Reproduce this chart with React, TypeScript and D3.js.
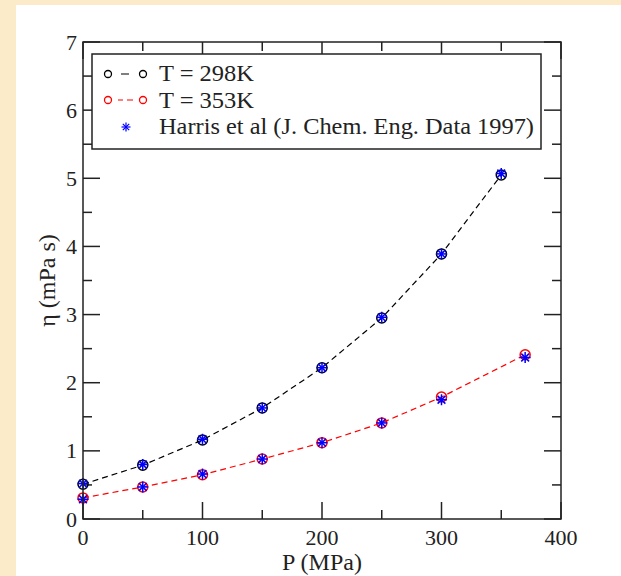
import React from "react";
import * as d3 from "d3";

const pressures298 = [0, 50, 100, 150, 200, 250, 300, 350];
const eta298 = [0.51, 0.79, 1.16, 1.63, 2.22, 2.95, 3.89, 5.05];
const pressures353 = [0, 50, 100, 150, 200, 250, 300, 370];
const eta353 = [0.31, 0.47, 0.65, 0.88, 1.12, 1.41, 1.79, 2.41];
const harrisP = [0, 50, 100, 150, 200, 250, 300, 350, 0, 50, 100, 150, 200, 250, 300, 370];
const harrisEta = [0.52, 0.80, 1.17, 1.63, 2.22, 2.96, 3.89, 5.07, 0.29, 0.47, 0.66, 0.88, 1.12, 1.41, 1.75, 2.37];
const xTicks = [0, 100, 200, 300, 400];
const yTicks = [0, 1, 2, 3, 4, 5, 6, 7];
const legendLabels = ["T = 298K", "T = 353K", "Harris et al (J. Chem. Eng. Data 1997)"];
const legendWidths = [95, 95, 375];

const W = 621;
const H = 576;
const left = 83, right = 561, top = 42, bottom = 519;
const FONT = "'Liberation Serif', 'Times New Roman', serif";

function Asterisk({ x, y, r, sw }: { x: number; y: number; r: number; sw: number }) {
  const d = r * 0.7071;
  return (
    <g stroke="#0000ff" strokeWidth={sw}>
      <line x1={x - r} y1={y} x2={x + r} y2={y} />
      <line x1={x} y1={y - r} x2={x} y2={y + r} />
      <line x1={x - d} y1={y - d} x2={x + d} y2={y + d} />
      <line x1={x - d} y1={y + d} x2={x + d} y2={y - d} />
    </g>
  );
}

export default function App() {
  const x = d3.scaleLinear().domain([0, 400]).range([left, right]);
  const y = d3.scaleLinear().domain([0, 7]).range([bottom, top]);
  const line = d3.line<[number, number]>().x((d) => x(d[0])).y((d) => y(d[1]));
  const s298: [number, number][] = pressures298.map((p, i) => [p, eta298[i]]);
  const s353: [number, number][] = pressures353.map((p, i) => [p, eta353[i]]);
  const xMinor = d3.range(0, 401, 50);
  const yMinor = d3.range(0, 7.01, 0.5);
  const major = 17, minor = 9;
  const frameColor = "#222";

  return (
    <svg width={W} height={H} style={{ position: "absolute", left: 0, top: 0 }}>
      <rect x={0} y={0} width={W} height={H} fill="#fbebc9" />
      <rect x={16} y={5} width={W - 16} height={H - 5} fill="#ffffff" />

      {/* ticks */}
      <g stroke={frameColor} strokeWidth={1.5}>
        {xMinor.map((v) => {
          const len = v % 100 === 0 ? major : minor;
          return (
            <g key={"xt" + v}>
              <line x1={x(v)} x2={x(v)} y1={bottom} y2={bottom - len} />
              <line x1={x(v)} x2={x(v)} y1={top} y2={top + len} />
            </g>
          );
        })}
        {yMinor.map((v) => {
          const len = Math.abs(v - Math.round(v)) < 1e-6 ? major : minor;
          return (
            <g key={"yt" + v}>
              <line x1={left} x2={left + len} y1={y(v)} y2={y(v)} />
              <line x1={right} x2={right - len} y1={y(v)} y2={y(v)} />
            </g>
          );
        })}
      </g>

      {/* series lines */}
      <path d={line(s298) || ""} fill="none" stroke="#000" strokeWidth={1.2} strokeDasharray="6,4" />
      <path d={line(s353) || ""} fill="none" stroke="#ff0000" strokeWidth={1.2} strokeDasharray="6,4" />

      {/* circles */}
      {s298.map((d, i) => (
        <circle key={"c298" + i} cx={x(d[0])} cy={y(d[1])} r={5} fill="none" stroke="#000" strokeWidth={1.5} />
      ))}
      {s353.map((d, i) => (
        <circle key={"c353" + i} cx={x(d[0])} cy={y(d[1])} r={5} fill="none" stroke="#ff0000" strokeWidth={1.5} />
      ))}
      {/* Harris asterisks */}
      {harrisP.map((p, i) => (
        <Asterisk key={"h" + i} x={x(p)} y={y(harrisEta[i])} r={5.5} sw={1.5} />
      ))}

      {/* frame */}
      <rect x={left} y={top} width={right - left} height={bottom - top} fill="none" stroke={frameColor} strokeWidth={1.5} />

      {/* tick labels */}
      <g fontFamily={FONT} fontSize={22} fill="#222">
        {xTicks.map((v) => (
          <text key={"xl" + v} x={x(v)} y={545} textAnchor="middle">{v}</text>
        ))}
        {yTicks.map((v) => (
          <text key={"yl" + v} x={77} y={y(v) + 7.5} textAnchor="end">{v}</text>
        ))}
      </g>

      {/* axis titles */}
      <text x={(left + right) / 2} y={570} textAnchor="middle" fontFamily={FONT} fontSize={24} fill="#222">P (MPa)</text>
      <text transform={`translate(55,${(top + bottom) / 2}) rotate(-90)`} textAnchor="middle" fontFamily={FONT} fontSize={24} fill="#222">η (mPa s)</text>

      {/* legend */}
      <rect x={92} y={54} width={449} height={95} fill="#fff" stroke={frameColor} strokeWidth={1.5} />
      <g>
        <line x1={112} x2={139} y1={74} y2={74} stroke="#000" strokeWidth={1.2} strokeDasharray="0,9,8,100" />
        <circle cx={108} cy={74} r={3.5} fill="none" stroke="#000" strokeWidth={1.3} />
        <circle cx={143} cy={74} r={3.5} fill="none" stroke="#000" strokeWidth={1.3} />
        <line x1={112} x2={139} y1={100} y2={100} stroke="#ff0000" strokeWidth={1.2} strokeDasharray="0,6,5,4,6,100" />
        <circle cx={108} cy={100} r={3.5} fill="none" stroke="#ff0000" strokeWidth={1.3} />
        <circle cx={143} cy={100} r={3.5} fill="none" stroke="#ff0000" strokeWidth={1.3} />
        <Asterisk x={126} y={127} r={4.5} sw={1.2} />
      </g>
      <g fontFamily={FONT} fontSize={22.5} fill="#222">
        {legendLabels.map((t, i) => (
          <text key={"lg" + i} x={159} y={81 + i * 26.5} textLength={legendWidths[i]} lengthAdjust="spacingAndGlyphs">{t}</text>
        ))}
      </g>
    </svg>
  );
}
